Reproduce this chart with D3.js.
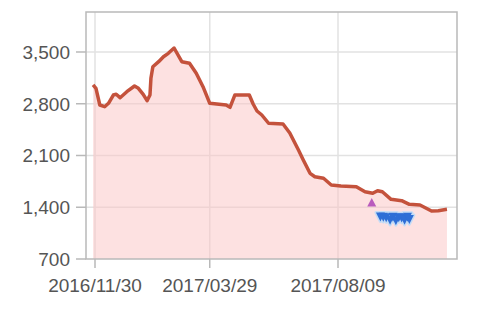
<!DOCTYPE html>
<html>
<head>
<meta charset="utf-8">
<script src="https://cdn.jsdelivr.net/npm/d3@7/dist/d3.min.js"></script>
<style>
html,body{margin:0;padding:0;background:#fff;}
svg{display:block;}
text{font-family:"Liberation Sans",Arial,sans-serif;}
</style>
</head>
<body>
<svg id="chart" width="500" height="310"></svg>
<script>
// ---- data ----
const lineDates = ["2016-11-28","2016-12-01","2016-12-05","2016-12-10","2016-12-14","2016-12-19","2016-12-22","2016-12-26",
"2017-01-02","2017-01-10","2017-01-14","2017-01-19","2017-01-23","2017-01-26","2017-01-27","2017-01-29","2017-02-04",
"2017-02-09","2017-02-14","2017-02-20","2017-02-28","2017-03-08","2017-03-15","2017-03-22","2017-03-29","2017-04-15",
"2017-04-19","2017-04-24","2017-05-09","2017-05-13","2017-05-17","2017-05-22","2017-05-29","2017-06-13","2017-06-20",
"2017-06-29","2017-07-04","2017-07-11","2017-07-16","2017-07-25","2017-08-02","2017-08-12","2017-08-28","2017-09-06",
"2017-09-14","2017-09-19","2017-09-24","2017-10-03","2017-10-14","2017-10-22","2017-11-02","2017-11-14","2017-11-21","2017-11-30"];
const lineValues = [3054,3009,2783,2760,2806,2918,2928,2882,
2963,3040,3009,2928,2841,2918,3144,3301,3369,
3436,3482,3554,3369,3347,3212,3031,2806,2783,
2752,2918,2918,2797,2702,2648,2536,2526,2404,
2174,2039,1859,1813,1792,1701,1687,1678,1610,
1589,1624,1610,1507,1489,1440,1430,1349,1353,1372];

const upDates = ["2017-09-13"];
const upValues = [1464];

const downDates = ["2017-09-22","2017-09-25","2017-09-28","2017-10-02","2017-10-05","2017-10-08","2017-10-11","2017-10-14","2017-10-17","2017-10-20","2017-10-22"];
const downValues = [1275,1270,1265,1230,1270,1225,1265,1260,1230,1270,1240];

const yTicks = [700,1400,2100,2800,3500];
const xTickDates = ["2016-11-30","2017-03-29","2017-08-09"];
const xTickLabels = ["2016/11/30","2017/03/29","2017/08/09"];

// ---- layout ----
const svg = d3.select("#chart");
const L = 86, R = 457, T = 12, B = 259;
const parse = d3.timeParse("%Y-%m-%d");

const x = d3.scaleTime()
  .domain([parse("2016-11-30"), parse("2017-08-09")])
  .range([95, 338]);
const y = d3.scaleLinear().domain([700, 4041]).range([B, T]);

const line = lineDates.map((d,i)=>({d:parse(d), v:lineValues[i]}));

// gridlines
const grid = svg.append("g");
grid.selectAll("line.h").data(yTicks.slice(1)).join("line")
  .attr("x1", L).attr("x2", R).attr("y1", d=>y(d)).attr("y2", d=>y(d))
  .attr("stroke", "#e2e2e2").attr("stroke-width", 1.5);
grid.selectAll("line.v").data(xTickDates).join("line")
  .attr("x1", d=>x(parse(d))).attr("x2", d=>x(parse(d))).attr("y1", T).attr("y2", B)
  .attr("stroke", "#e2e2e2").attr("stroke-width", 1.5);

// area
svg.append("path").datum(line)
  .attr("d", d3.area().x(d=>x(d.d)).y0(y(700)).y1(d=>y(d.v)))
  .attr("fill", "#fbc4c4").attr("fill-opacity", 0.5);

// line
svg.append("path").datum(line)
  .attr("d", d3.line().x(d=>x(d.d)).y(d=>y(d.v)))
  .attr("fill", "none").attr("stroke", "#c4523c").attr("stroke-width", 3.5)
  .attr("stroke-linejoin", "round");

// up triangle marker
svg.append("g").selectAll("path").data(upDates.map((d,i)=>({d:parse(d), v:upValues[i]}))).join("path")
  .attr("transform", d=>`translate(${x(d.d)},${y(d.v)})`)
  .attr("d", "M0,-4.5L4.5,4L-4.5,4Z")
  .attr("fill", "#b95bbd");

// down triangle markers
const dn = downDates.map((d,i)=>({d:parse(d), v:downValues[i]}));
const dg = svg.append("g");
dg.selectAll("path.halo").data(dn).join("path")
  .attr("transform", d=>`translate(${x(d.d)},${y(d.v)})`)
  .attr("d", "M-4.5,-4L4.5,-4L0,5Z")
  .attr("fill", "none").attr("stroke", "#c4dcf6").attr("stroke-width", 3).attr("stroke-linejoin","round");
dg.selectAll("path.m").data(dn).join("path")
  .attr("transform", d=>`translate(${x(d.d)},${y(d.v)})`)
  .attr("d", "M-4.5,-4L4.5,-4L0,5Z")
  .attr("fill", "#2f6ed6");

// frame
svg.append("rect").attr("x", L).attr("y", T).attr("width", R-L).attr("height", B-T)
  .attr("fill", "none").attr("stroke", "#b9b9b9").attr("stroke-width", 1.5);

// y ticks & labels
const ya = svg.append("g");
ya.selectAll("line").data(yTicks).join("line")
  .attr("x1", 76).attr("x2", L).attr("y1", d=>y(d)).attr("y2", d=>y(d))
  .attr("stroke", "#b9b9b9").attr("stroke-width", 1.5);
ya.selectAll("text").data(yTicks).join("text")
  .attr("x", 70).attr("y", d=>y(d)).attr("dy", "0.36em")
  .attr("text-anchor", "end").attr("font-size", 19).attr("fill", "#555")
  .text(d=>d3.format(",")(d));

// x ticks & labels
const xa = svg.append("g");
xa.selectAll("line").data(xTickDates).join("line")
  .attr("x1", d=>x(parse(d))).attr("x2", d=>x(parse(d))).attr("y1", B).attr("y2", 268)
  .attr("stroke", "#b9b9b9").attr("stroke-width", 1.5);
xa.selectAll("text").data(xTickDates).join("text")
  .attr("x", d=>x(parse(d))).attr("y", 292)
  .attr("text-anchor", "middle").attr("font-size", 19).attr("fill", "#555")
  .text((d,i)=>xTickLabels[i]);
</script>
</body>
</html>
